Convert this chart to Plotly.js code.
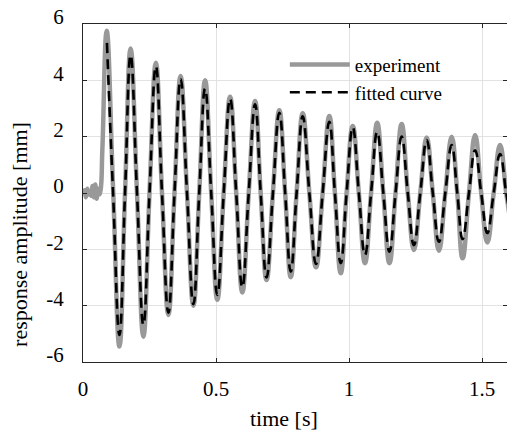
<!DOCTYPE html>
<html>
<head>
<meta charset="utf-8">
<script src="https://cdn.plot.ly/plotly-3.0.1.min.js"></script>
<style>html,body{margin:0;padding:0;background:#fff;}#chart{width:507px;height:430px;}</style>
</head>
<body>
<div id="chart"></div>
<script>
// experiment: time [s] and response [mm]
const expTime = [0, 0.006, 0.011, 0.016, 0.021, 0.026, 0.031, 0.036, 0.041, 0.046, 0.051, 0.056, 0.061, 0.066, 0.073,
  0.089, 0.113, 0.137, 0.158, 0.179, 0.203, 0.227, 0.250, 0.274, 0.297, 0.321, 0.344, 0.367, 0.391, 0.415, 0.437,
  0.459, 0.482, 0.505, 0.529, 0.553, 0.576, 0.599, 0.623, 0.647, 0.668, 0.690, 0.714, 0.738, 0.760, 0.781, 0.803,
  0.826, 0.851, 0.876, 0.901, 0.926, 0.947, 0.969, 0.991, 1.014, 1.037, 1.060, 1.083, 1.106, 1.129, 1.152, 1.175,
  1.198, 1.221, 1.244, 1.268, 1.292, 1.315, 1.338, 1.362, 1.386, 1.407, 1.427, 1.451, 1.474, 1.497, 1.520, 1.544,
  1.568, 1.591, 1.612];
const expResp = [-0.10, 0.10, -0.15, 0.15, -0.05, 0.05, -0.10, 0.25, -0.15, 0.30, -0.20, 0.15, -0.05, 0.10, 1.6,
  5.76, 0.2, -5.45, 0, 5.13, 0, -5.10, 0, 4.62, 0, -4.33, 0, 4.15, 0, -4.00, 0,
  4.00, 0, -3.79, 0, 3.42, 0, -3.53, 0, 3.27, 0, -3.09, 0, 2.94, 0, -2.99, 0,
  2.83, 0, -2.64, 0, 2.73, 0, -2.85, 0, 2.38, 0, -2.49, 0, 2.49, 0, -2.49, 0,
  2.45, 0, -2.02, 0, 1.97, 0, -2.05, 0, 2.00, 0, -2.32, 0, 2.06, 0, -1.76, 0,
  1.70, 0, -1.30];

// fitted damped curve: time [s] and response [mm]
const fitTime = [0.090, 0.113, 0.137, 0.158, 0.179, 0.203, 0.227, 0.250, 0.274, 0.297, 0.321, 0.344, 0.367, 0.391,
  0.415, 0.437, 0.459, 0.482, 0.505, 0.529, 0.553, 0.576, 0.599, 0.623, 0.647, 0.668, 0.690, 0.714, 0.738, 0.760,
  0.781, 0.803, 0.826, 0.851, 0.876, 0.901, 0.926, 0.947, 0.969, 0.991, 1.014, 1.037, 1.060, 1.083, 1.106, 1.129,
  1.152, 1.175, 1.198, 1.221, 1.244, 1.268, 1.292, 1.315, 1.338, 1.362, 1.386, 1.407, 1.427, 1.451, 1.474, 1.497,
  1.520, 1.544, 1.568, 1.591, 1.612];
const fitResp = [5.33, 0, -5.04, 0, 4.90, 0, -4.68, 0, 4.50, 0, -4.25, 0, 4.05, 0,
  -3.95, 0, 3.71, 0, -3.62, 0, 3.35, 0, -3.35, 0, 3.15, 0, -3.00, 0, 2.85, 0,
  -2.79, 0, 2.72, 0, -2.52, 0, 2.53, 0, -2.49, 0, 2.33, 0, -2.20, 0, 2.17, 0,
  -2.08, 0, 2.00, 0, -1.85, 0, 1.88, 0, -1.73, 0, 1.70, 0, -1.64, 0, 1.52, 0,
  -1.42, 0, 1.38, 0, -1.10];

const xTickVals = [0, 0.5, 1, 1.5];
const xTickText = ['0', '0.5', '1', '1.5'];
const yTickVals = [-6, -4, -2, 0, 2, 4, 6];
const yTickText = ['-6', '-4', '-2', '0', '2', '4', '6'];
const seriesNames = ['experiment', 'fitted curve'];

const serif = 'Liberation Serif, Times New Roman, serif';
const axisColor = '#262626';

const traces = [
  {x: expTime, y: expResp, name: seriesNames[0], mode: 'lines',
   line: {color: '#999999', width: 4.5, shape: 'spline', smoothing: 1.3}},
  {x: fitTime, y: fitResp, name: seriesNames[1], mode: 'lines',
   line: {color: '#000000', width: 2.6, dash: '10px,6px', shape: 'spline', smoothing: 1.3}}
];

const layout = {
  width: 507, height: 430,
  margin: {l: 83, r: 0, t: 24, b: 68},
  paper_bgcolor: '#ffffff', plot_bgcolor: '#ffffff',
  font: {family: serif, size: 21, color: '#000000'},
  showlegend: true,
  legend: {x: 0.476, y: 0.936, xanchor: 'left', yanchor: 'top', bgcolor: 'rgba(0,0,0,0)',
           font: {family: serif, size: 19, color: '#000000'}, itemwidth: 60,
           traceorder: 'grouped', tracegroupgap: 3},
  xaxis: {range: [0, 1.594], tickmode: 'array', tickvals: xTickVals, ticktext: xTickText,
          showline: true, linecolor: axisColor, linewidth: 1, mirror: 'ticks',
          ticks: 'inside', ticklen: 4, tickcolor: axisColor, tickwidth: 1,
          showgrid: true, gridcolor: '#e2e2e2', gridwidth: 1, zeroline: false,
          ticklabelstandoff: 8, tickfont: {family: serif, size: 21, color: '#000000'}},
  yaxis: {range: [-6, 6], tickmode: 'array', tickvals: yTickVals, ticktext: yTickText,
          showline: true, linecolor: axisColor, linewidth: 1, mirror: 'ticks',
          ticks: 'inside', ticklen: 4, tickcolor: axisColor, tickwidth: 1,
          showgrid: true, gridcolor: '#e2e2e2', gridwidth: 1, zeroline: false,
          ticklabelshift: -7, ticklabelstandoff: 14,
          tickfont: {family: serif, size: 21, color: '#000000'}},
  annotations: [
    {text: 'time [s]', xref: 'paper', yref: 'paper', x: 0.474, y: -0.166, xanchor: 'center', yanchor: 'middle',
     showarrow: false, font: {family: serif, size: 22, color: '#000000'}},
    {text: 'response amplitude [mm]', xref: 'paper', yref: 'paper', x: -0.1486, y: 0.379, textangle: -90,
     xanchor: 'center', yanchor: 'middle', showarrow: false, font: {family: serif, size: 22, color: '#000000'}}
  ]
};

Plotly.newPlot('chart', traces, layout, {displayModeBar: false, staticPlot: true});
</script>
</body>
</html>
